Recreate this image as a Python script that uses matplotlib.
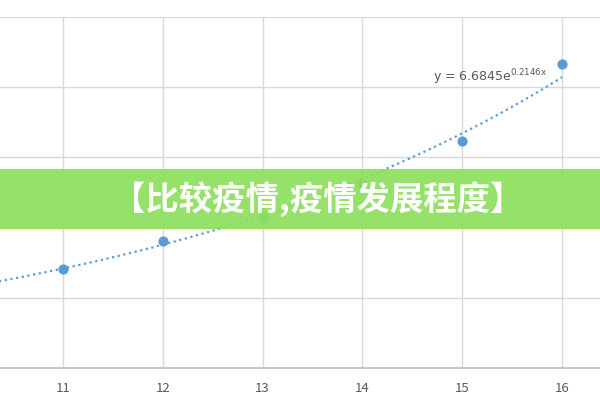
import numpy as np
import matplotlib.pyplot as plt
from matplotlib.patches import Rectangle

plt.rcParams['font.family'] = ['Noto Sans CJK SC', 'DejaVu Sans']

# data
days = [11, 12, 13, 14, 15, 16]
cases = [70.5, 90.5, 107, 131, 162, 216.5]
x_ticks = [11, 12, 13, 14, 15, 16]
y_grid = [0, 50, 100, 150, 200, 250]

# trendline coefficients shown on the chart
coef_a = 6.6845
coef_b = 0.2146
banner_text = "【比较疫情,疫情发展程度】"

fig = plt.figure(figsize=(6, 4), dpi=100)
ax = fig.add_axes([0, 32 / 400, 1, 351 / 400])
ax.set_xlim(10.37, 16.38)
ax.set_ylim(0, 250)

ax.set_xticks(x_ticks)
ax.set_yticks(y_grid)
ax.set_yticklabels([])
ax.grid(True, color='#d9d9d9', linewidth=1)
ax.set_axisbelow(True)
ax.tick_params(axis='both', length=0)
ax.tick_params(axis='x', pad=10, labelsize=9.5, labelcolor='#595959')
for side in ['top', 'left', 'right']:
    ax.spines[side].set_visible(False)
ax.spines['bottom'].set_color('#bfbfbf')
ax.spines['bottom'].set_linewidth(1.2)

xs = np.linspace(10.3, 16, 200)
ax.plot(xs, coef_a * np.exp(coef_b * xs), linestyle=(0, (1, 1.6)), color='#5b9bd5',
        linewidth=1.6, zorder=3)
ax.scatter(days, cases, s=40, color='#5b9bd5', zorder=4)
ax.text(15.85, 207, 'y = 6.6845e$\\mathregular{^{0.2146x}}$', ha='right', va='center',
        fontsize=9, color='#595959', family='DejaVu Sans', zorder=5)

# green banner over the chart
fig.patches.append(Rectangle((0, 1 - 229 / 400), 1, 60 / 400, transform=fig.transFigure,
                             facecolor='#8ddf5e', alpha=0.93, edgecolor='none', zorder=10))
fig.text(318 / 600, 1 - 200 / 400, banner_text, ha='center', va='center',
         fontsize=24, fontweight='heavy', color='white', zorder=11)

fig.savefig('out.png', dpi=100)
